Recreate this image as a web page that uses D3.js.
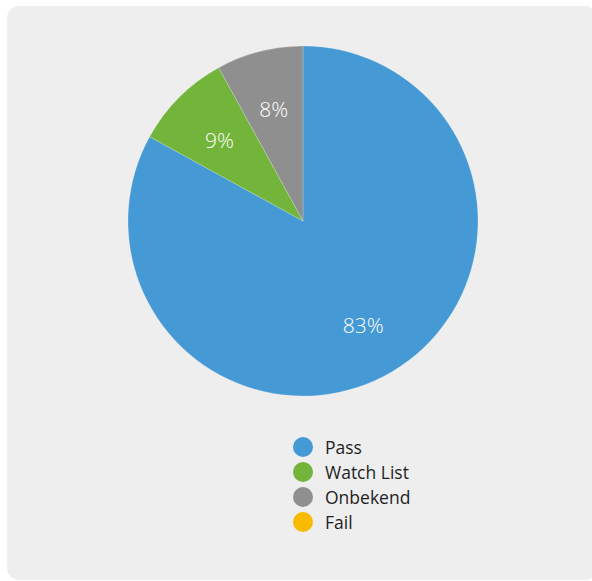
<!DOCTYPE html>
<html>
<head>
<meta charset="utf-8">
<script src="https://cdn.jsdelivr.net/npm/d3@7"></script>
<style>
html,body{margin:0;padding:0;background:#ffffff;}
svg{display:block;font-family:"Open Sans",sans-serif;}
</style>
</head>
<body>
<svg id="chart" width="592" height="581"></svg>
<script>
const categories = ["Pass", "Watch List", "Onbekend", "Fail"];
const values = [83, 9, 8, 0];
const colors = ["#4599d5", "#72b53a", "#8f8f8f", "#f8bb00"];

const svg = d3.select("#chart");
svg.append("rect").attr("x", 7).attr("y", 6).attr("width", 590).attr("height", 574)
  .attr("rx", 12).attr("ry", 12).attr("fill", "#eeeeee");

const cx = 303, cy = 221, R = 175;
const data = categories.map((c, i) => ({name: c, value: values[i], color: colors[i]}));
const pie = d3.pie().sort(null).value(d => d.value)
  .startAngle(0).endAngle(2 * Math.PI);
const arcs = pie(data);
const arc = d3.arc().innerRadius(0).outerRadius(R);
const labelArc = d3.arc().innerRadius(R * 0.675).outerRadius(R * 0.675);

const g = svg.append("g").attr("transform", `translate(${cx},${cy})`);
g.selectAll("path").data(arcs.filter(d => d.data.value > 0)).join("path")
  .attr("d", arc).attr("fill", d => d.data.color)
  .attr("stroke", "#ffffff").attr("stroke-width", 0.4).attr("stroke-opacity", 0.5);

g.selectAll("text").data(arcs.filter(d => d.data.value > 0)).join("text")
  .attr("transform", d => `translate(${labelArc.centroid(d)})`)
  .attr("text-anchor", "middle").attr("dy", "0.48em")
  .attr("fill", "#ffffff").attr("font-size", 21).attr("font-weight", 300)
  .text(d => d.data.value + "%");

const legend = svg.append("g");
const rowY = d3.scalePoint().domain(categories).range([447, 522]);
const items = legend.selectAll("g").data(data).join("g")
  .attr("transform", d => `translate(303,${rowY(d.name)})`);
items.append("circle").attr("r", 10).attr("fill", d => d.color);
items.append("text").attr("x", 22).attr("dy", "0.38em")
  .attr("font-size", 17.5).attr("fill", "#1e1e1e").text(d => d.name);
</script>
</body>
</html>
